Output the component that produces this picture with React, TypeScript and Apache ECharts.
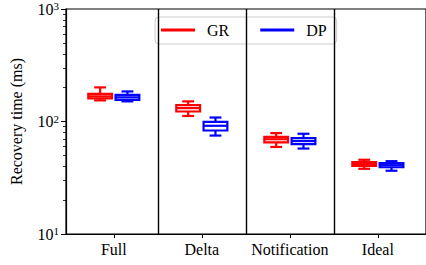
import React, { useEffect, useRef } from "react";
import * as echarts from "echarts";

const categories = ["Full", "Delta", "Notification", "Ideal"];
const seriesNames = ["GR", "DP"];
// [low whisker, Q1, median, Q3, high whisker]
const grStats = [
  [154, 160.6, 167.4, 176, 201],
  [112, 122.7, 131.5, 139.8, 151],
  [59.4, 65.1, 69.6, 73.1, 78.9],
  [38.0, 40.4, 42.0, 43.5, 45.7],
];
const dpStats = [
  [151, 155.8, 164, 172.6, 185],
  [75, 83.2, 91.6, 99.4, 108.5],
  [57.5, 63.0, 67.0, 71.2, 77.8],
  [36.5, 39.2, 40.9, 42.6, 44.4],
];
const majorTicks = [10, 100, 1000];
const minorTicks = [20, 30, 40, 50, 60, 70, 80, 90, 200, 300, 400, 500, 600, 700, 800, 900];
const separators = [1.5, 2.5, 3.5];

const FONT = "Liberation Serif";
const FS = 16;
const OFFSET = 0.155;
const HALF_W = 0.135;

function makeRender(color: string) {
  return (params: any, api: any) => {
    const x = api.value(0);
    const lo = api.value(1), q1 = api.value(2), med = api.value(3), q3 = api.value(4), hi = api.value(5);
    const L = api.coord([x - HALF_W, med])[0];
    const R = api.coord([x + HALF_W, med])[0];
    const cL = api.coord([x - HALF_W / 2, med])[0];
    const cR = api.coord([x + HALF_W / 2, med])[0];
    const cx = api.coord([x, med])[0];
    const yLo = api.coord([x, lo])[1];
    const yQ1 = api.coord([x, q1])[1];
    const yMed = api.coord([x, med])[1];
    const yQ3 = api.coord([x, q3])[1];
    const yHi = api.coord([x, hi])[1];
    const st = { stroke: color, lineWidth: 2.2, fill: "none" };
    return {
      type: "group",
      children: [
        { type: "line", shape: { x1: cx, y1: yQ3, x2: cx, y2: yHi }, style: st },
        { type: "line", shape: { x1: cx, y1: yQ1, x2: cx, y2: yLo }, style: st },
        { type: "line", shape: { x1: cL, y1: yHi, x2: cR, y2: yHi }, style: st },
        { type: "line", shape: { x1: cL, y1: yLo, x2: cR, y2: yLo }, style: st },
        { type: "rect", shape: { x: L, y: yQ3, width: R - L, height: yQ1 - yQ3 }, style: st },
        { type: "line", shape: { x1: L, y1: yMed, x2: R, y2: yMed }, style: st },
      ],
    };
  };
}

export default function App() {
  const ref = useRef<HTMLDivElement>(null);
  useEffect(() => {
    document.body.style.margin = "0";
    const chart = echarts.init(ref.current!, null, { renderer: "svg" });
    const grData = grStats.map((s, i) => [i + 1 - OFFSET, ...s]);
    const dpData = dpStats.map((s, i) => [i + 1 + OFFSET, ...s]);
    const axisLineStyle = { color: "#000", width: 1.2 };
    chart.setOption({
      animation: false,
      textStyle: { fontFamily: FONT },
      grid: {
        left: 66,
        top: 9,
        bottom: 31,
        width: 364,
        show: true,
        borderColor: "#000",
        borderWidth: 1.2,
        backgroundColor: "transparent",
      },
      legend: {
        left: 155,
        top: 17,
        padding: [5, 10, 6, 6],
        itemGap: 31,
        itemWidth: 34,
        itemHeight: 3,
        backgroundColor: "rgba(255,255,255,0.8)",
        borderColor: "#cccccc",
        borderWidth: 1,
        borderRadius: 4,
        textStyle: { fontFamily: FONT, fontSize: FS, color: "#000", padding: [0, 0, 0, 7] },
        data: [
          { name: seriesNames[0], icon: "rect", itemStyle: { color: "#ff0000" } },
          { name: seriesNames[1], icon: "rect", itemStyle: { color: "#0000ff" } },
        ],
      },
      xAxis: {
        type: "value",
        min: 0.457,
        max: 4.547,
        axisLine: { show: true, lineStyle: axisLineStyle },
        axisTick: { show: true, length: 4, lineStyle: { color: "#000", width: 1 }, customValues: [1, 2, 3, 4] },
        axisLabel: {
          customValues: [1, 2, 3, 4],
          formatter: (v: number) => categories[Math.round(v) - 1] ?? "",
          fontFamily: FONT,
          fontSize: FS,
          color: "#000",
          margin: 7,
        },
        splitLine: { show: false },
      },
      yAxis: [
        {
          type: "log",
          logBase: 10,
          min: 10,
          max: 1000,
          name: "Recovery time (ms)",
          nameLocation: "middle",
          nameGap: 42,
          nameTextStyle: { fontFamily: FONT, fontSize: FS, color: "#000" },
          axisLine: { show: true, lineStyle: axisLineStyle },
          axisTick: { show: true, length: 5, lineStyle: { color: "#000", width: 1 }, customValues: majorTicks },
          axisLabel: {
            customValues: majorTicks,
            margin: 7,
            color: "#000",
            fontFamily: FONT,
            fontSize: FS,
            formatter: (v: number) => `10{sup|${Math.round(Math.log10(v))}}`,
            rich: {
              sup: { fontSize: 11, fontFamily: FONT, color: "#000", verticalAlign: "top", padding: [0, 0, 6, 0] },
            },
          },
          splitLine: { show: false },
        },
        {
          type: "log",
          logBase: 10,
          min: 10,
          max: 1000,
          position: "left",
          axisLine: { show: false },
          axisTick: { show: true, length: 3, lineStyle: { color: "#000", width: 0.8 }, customValues: minorTicks },
          axisLabel: { show: false },
          splitLine: { show: false },
        },
      ],
      series: [
        {
          type: "line",
          data: [],
          silent: true,
          markLine: {
            silent: true,
            symbol: ["none", "none"],
            label: { show: false },
            lineStyle: { color: "#000", type: "solid", width: 1.4 },
            data: separators.map((s) => ({ xAxis: s })),
          },
        },
        {
          name: seriesNames[0],
          type: "custom",
          itemStyle: { color: "#ff0000" },
          renderItem: makeRender("#ff0000"),
          encode: { x: 0, y: [1, 2, 3, 4, 5] },
          data: grData,
        },
        {
          name: seriesNames[1],
          type: "custom",
          itemStyle: { color: "#0000ff" },
          renderItem: makeRender("#0000ff"),
          encode: { x: 0, y: [1, 2, 3, 4, 5] },
          data: dpData,
        },
      ],
    });
    return () => chart.dispose();
  }, []);
  return <div ref={ref} style={{ width: 426, height: 265 }} />;
}
